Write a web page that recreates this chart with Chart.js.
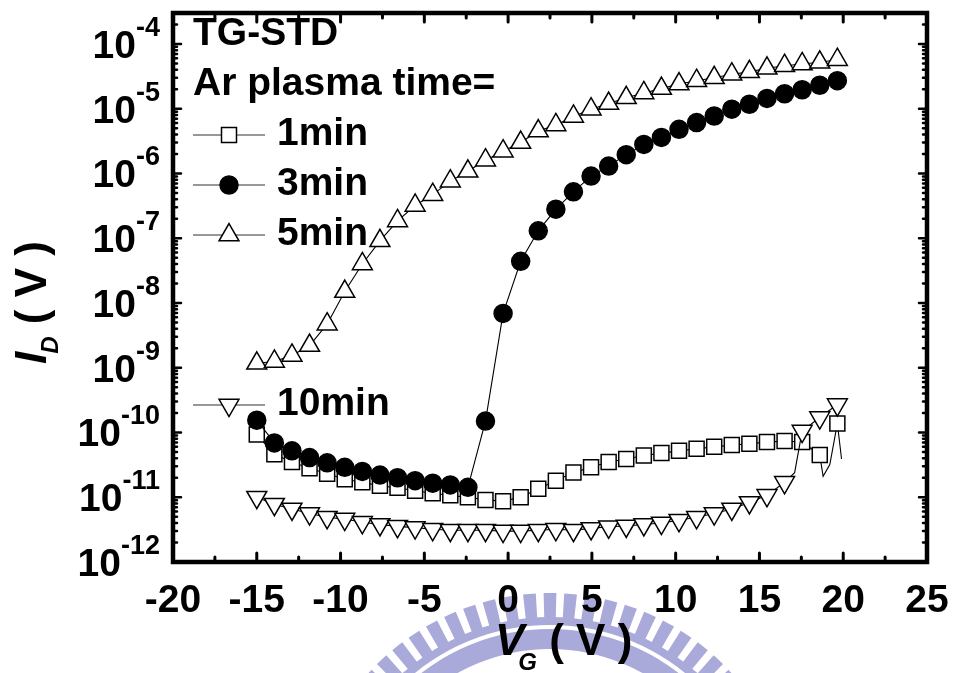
<!DOCTYPE html>
<html>
<head>
<meta charset="utf-8">
<title>TG-STD transfer curves</title>
<script src="https://cdn.jsdelivr.net/npm/chart.js@4/dist/chart.umd.min.js"></script>
<style>
  html, body { margin: 0; padding: 0; background: #fff; }
  #chart { display: block; }
</style>
</head>
<body>
<canvas id="chart" width="954" height="673"></canvas>
<script>
// gate voltage sweep (marked points, shared by every curve)
const vg = [-15.0, -13.95, -12.9, -11.85, -10.8, -9.75, -8.7, -7.65, -6.6, -5.55, -4.5, -3.45,
            -2.4, -1.35, -0.3, 0.75, 1.8, 2.85, 3.9, 4.95, 6.0, 7.05, 8.1, 9.15, 10.2, 11.25,
            12.3, 13.35, 14.4, 15.45, 16.5, 17.55, 18.6, 19.65];

// drain current (A) for each Ar plasma time
const id1min = [9.3e-11, 4.6e-11, 3.5e-11, 2.8e-11, 2.3e-11, 1.9e-11, 1.7e-11, 1.5e-11, 1.4e-11,
                1.26e-11, 1.15e-11, 1.07e-11, 1.0e-11, 9.1e-12, 8.7e-12, 1.0e-11, 1.35e-11, 1.8e-11,
                2.4e-11, 2.9e-11, 3.5e-11, 3.9e-11, 4.4e-11, 4.8e-11, 5.2e-11, 5.6e-11, 6.0e-11,
                6.4e-11, 6.7e-11, 7.1e-11, 7.4e-11, 7.1e-11, 4.5e-11, 1.38e-10];
const id3min = [1.55e-10, 6.9e-11, 5.2e-11, 4.1e-11, 3.4e-11, 2.9e-11, 2.5e-11, 2.2e-11, 2.0e-11,
                1.8e-11, 1.65e-11, 1.55e-11, 1.42e-11, 1.5e-10, 6.9e-9, 4.4e-8, 1.3e-7, 2.8e-7,
                5.2e-7, 9.1e-7, 1.3e-6, 1.95e-6, 2.8e-6, 3.6e-6, 4.8e-6, 6.1e-6, 7.7e-6, 9.8e-6,
                1.17e-5, 1.44e-5, 1.7e-5, 1.96e-5, 2.3e-5, 2.7e-5];
const id5min = [1.17e-9, 1.25e-9, 1.55e-9, 2.2e-9, 4.7e-9, 1.5e-8, 4.0e-8, 9.1e-8, 1.85e-7,
                3.2e-7, 4.7e-7, 7.6e-7, 1.08e-6, 1.6e-6, 2.2e-6, 3.0e-6, 4.5e-6, 5.6e-6, 7.6e-6,
                9.8e-6, 1.2e-5, 1.47e-5, 1.75e-5, 2.04e-5, 2.4e-5, 2.7e-5, 3.0e-5, 3.4e-5, 3.7e-5,
                4.2e-5, 4.6e-5, 4.9e-5, 5.2e-5, 5.7e-5];
const id10min = [1.0e-11, 7.8e-12, 6.6e-12, 5.6e-12, 4.9e-12, 4.6e-12, 4.1e-12, 3.8e-12, 3.55e-12,
                 3.4e-12, 3.2e-12, 3.1e-12, 3.1e-12, 3.1e-12, 3.0e-12, 3.0e-12, 3.1e-12, 3.2e-12,
                 3.1e-12, 3.3e-12, 3.5e-12, 3.6e-12, 3.8e-12, 4.0e-12, 4.4e-12, 4.9e-12, 5.6e-12,
                 6.6e-12, 8.3e-12, 1.07e-11, 1.7e-11, 1.05e-10, 1.7e-10, 2.7e-10];

// unmarked samples in between symbols (line only)
const tail1minVg = [18.8, 19.2, 19.9];
const tail1minId = [2.1e-11, 3.2e-11, 3.9e-11];
const tail10minVg = [17.1];
const tail10minId = [2.4e-11];

const xTicks = [-20, -15, -10, -5, 0, 5, 10, 15, 20, 25];
const yDecades = [-12, -11, -10, -9, -8, -7, -6, -5, -4];

const FONT = '"Liberation Sans", Arial, sans-serif';

function buildPoints(ys, extraX, extraY) {
  const pts = vg.map((v, i) => ({ x: v, y: ys[i], m: true }));
  (extraX || []).forEach((v, i) => pts.push({ x: v, y: extraY[i], m: false }));
  return pts.sort((a, b) => a.x - b.x);
}

function series(label, pts, style, radius, fill, rotation, order) {
  return {
    label: label,
    data: pts,
    showLine: true,
    borderColor: '#000',
    borderWidth: 1.1,
    pointStyle: style,
    pointRotation: rotation,
    pointRadius: c => (c.raw && c.raw.m ? radius : 0),
    pointBackgroundColor: fill,
    pointBorderColor: '#000',
    pointBorderWidth: 1.5,
    order: order
  };
}

const datasets = [
  series('1min', buildPoints(id1min, tail1minVg, tail1minId), 'rect', 10.6, '#fff', 0, 3),
  series('3min', buildPoints(id3min), 'circle', 9, '#000', 0, 1),
  series('5min', buildPoints(id5min), 'triangle', 11.5, '#fff', 0, 2),
  series('10min', buildPoints(id10min, tail10minVg, tail10minId), 'triangle', 11.5, '#fff', 180, 0)
];

// faint university seal behind the x-axis title
const sealPlugin = {
  id: 'seal',
  beforeDraw(chart) {
    const c = chart.ctx;
    const cx = 550, cy = 839;
    c.save();
    c.fillStyle = 'rgb(170,170,218)';
    function ring(r1, r2, a0, a1) {
      c.beginPath();
      c.arc(cx, cy, r1, a0, a1);
      c.arc(cx, cy, r2, a1, a0, true);
      c.closePath();
      c.fill();
    }
    ring(222, 214, Math.PI, 2 * Math.PI);
    ring(210, 190, Math.PI, 2 * Math.PI);
    const step = 4.8 * Math.PI / 180;
    for (let a = -Math.PI / 2 - 14 * step; a <= -Math.PI / 2 + 14 * step + 1e-6; a += step) {
      const w = step * 0.31;
      ring(246, 221, a - w, a + w);
    }
    c.restore();
  }
};

// frame, inward ticks, decade labels, axis titles and the in-plot legend
const decorPlugin = {
  id: 'decor',
  afterDraw(chart) {
    const c = chart.ctx;
    const a = chart.chartArea;
    const xs = chart.scales.x, ys = chart.scales.y;
    c.save();
    c.strokeStyle = '#000';
    c.fillStyle = '#000';

    // x ticks on bottom and top
    c.lineWidth = 3;
    c.lineCap = 'round';
    for (let v = -17.5; v < 25; v += 2.5) {
      const px = xs.getPixelForValue(v);
      const major = xTicks.includes(v);
      const len = major ? 9 : 5;
      c.beginPath();
      c.moveTo(px, a.bottom); c.lineTo(px, a.bottom - len);
      c.moveTo(px, a.top); c.lineTo(px, a.top + len);
      c.stroke();
    }

    // y ticks (log minors included) on left and right
    c.lineWidth = 2.5;
    for (let k = -12; k <= -4; k++) {
      for (let m = 1; m <= 9; m++) {
        const val = m * Math.pow(10, k);
        if (val > ys.max) break;
        const py = ys.getPixelForValue(val);
        if (py < a.top + 2 || py > a.bottom - 2) continue;
        const len = m === 1 ? 8 : 4;
        c.beginPath();
        c.moveTo(a.left, py); c.lineTo(a.left + len, py);
        c.moveTo(a.right, py); c.lineTo(a.right - len, py);
        c.stroke();
      }
    }

    // frame
    c.lineCap = 'butt';
    c.lineWidth = 4.5;
    c.strokeRect(a.left, a.top, a.right - a.left, a.bottom - a.top);

    // decade labels 10^k
    c.textBaseline = 'alphabetic';
    c.textAlign = 'right';
    yDecades.forEach(k => {
      const py = ys.getPixelForValue(Math.pow(10, k));
      c.font = 'bold 27px ' + FONT;
      const exp = String(k);
      const w = c.measureText(exp).width;
      c.fillText(exp, 160, py - 8);
      c.font = 'bold 39px ' + FONT;
      c.fillText('10', 160 - w, py + 14);
    });

    // x title: V_G ( V )
    c.textAlign = 'left';
    let x = 495;
    c.font = 'italic bold 44px ' + FONT;
    c.fillText('V', x, 655);
    x += c.measureText('V').width - 6;
    c.font = 'italic bold 24px ' + FONT;
    c.fillText('G', x, 670);
    x += c.measureText('G').width;
    c.font = 'bold 44px ' + FONT;
    c.fillText(' ( V )', x, 655);

    // y title: I_D ( V ), rotated
    c.save();
    c.translate(46, 364);
    c.rotate(-Math.PI / 2);
    let t = 0;
    c.font = 'italic bold 44px ' + FONT;
    c.fillText('I', t, 0);
    t += c.measureText('I').width - 2;
    c.font = 'italic bold 24px ' + FONT;
    c.fillText('D', t, 12);
    t += c.measureText('D').width;
    c.font = 'bold 44px ' + FONT;
    c.fillText(' ( V )', t, 0);
    c.restore();

    // legend block
    c.font = 'bold 39px ' + FONT;
    c.fillText('TG-STD', 193, 45);
    c.fillText('Ar plasma time=', 193, 95);
    const rows = [
      { ds: 0, base: 145 },
      { ds: 1, base: 195 },
      { ds: 2, base: 245 },
      { ds: 3, base: 415 }
    ];
    rows.forEach(r => {
      const d = chart.data.datasets[r.ds];
      const ly = r.base - 10;
      c.strokeStyle = '#333';
      c.lineWidth = 1.2;
      c.beginPath();
      c.moveTo(193, ly); c.lineTo(265, ly);
      c.stroke();
      c.fillStyle = d.pointBackgroundColor;
      c.strokeStyle = '#000';
      c.lineWidth = 1.5;
      const rad = d.pointStyle === 'rect' ? 10.6 : (d.pointStyle === 'circle' ? 9 : 11.5);
      Chart.helpers.drawPoint(c, { pointStyle: d.pointStyle, rotation: d.pointRotation, radius: rad, borderWidth: 1.5 }, 229, ly);
      c.fillStyle = '#000';
      c.font = 'bold 39px ' + FONT;
      c.fillText(d.label, 277, r.base);
    });

    c.restore();
  }
};

new Chart(document.getElementById('chart').getContext('2d'), {
  type: 'scatter',
  data: { datasets: datasets },
  options: {
    responsive: false,
    animation: false,
    layout: { padding: { left: 0, top: 10, right: 27, bottom: 0 } },
    plugins: { legend: { display: false }, tooltip: { enabled: false } },
    scales: {
      x: {
        type: 'linear',
        min: -20,
        max: 25,
        grid: { display: false },
        border: { display: false },
        ticks: {
          stepSize: 5,
          color: '#000',
          padding: 8,
          maxRotation: 0,
          font: { family: FONT, size: 39, weight: 'bold' }
        },
        afterFit(s) {
          s.height = 111;
          s.paddingLeft = 0;
          s.paddingRight = 0;
        }
      },
      y: {
        type: 'logarithmic',
        min: 1e-12,
        max: 3e-4,
        grid: { display: false },
        border: { display: false },
        ticks: { display: false },
        afterFit(s) { s.width = 173; }
      }
    }
  },
  plugins: [sealPlugin, decorPlugin]
});
</script>
</body>
</html>
